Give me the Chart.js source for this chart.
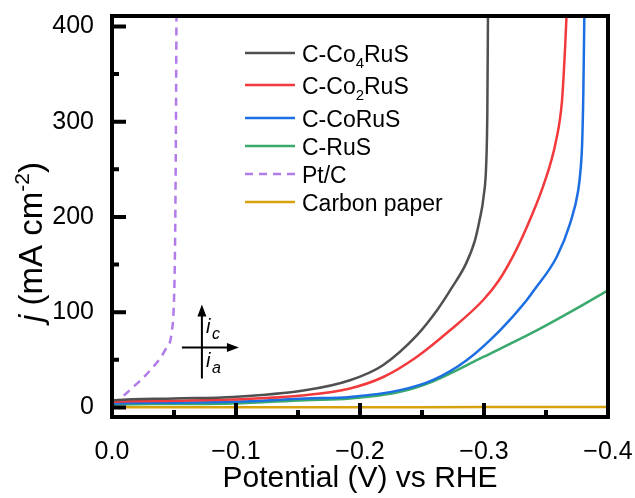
<!DOCTYPE html>
<html>
<head>
<meta charset="utf-8">
<script src="https://cdn.jsdelivr.net/npm/chart.js@4.4.1/dist/chart.umd.min.js"></script>
<style>
  html, body { margin: 0; padding: 0; background: #fff; }
  #wrap { width: 635px; height: 498px; }
</style>
</head>
<body>
<div id="wrap"><canvas id="lsvChart"></canvas></div>
<script>
// LSV curves (potential in V vs RHE, j in mA cm-2)
const co4rusV = [0, -0.0024, -0.05, -0.0976, -0.1556, -0.1919, -0.2185, -0.246, -0.2621, -0.2742, -0.2855, -0.2927, -0.2964, -0.2996, -0.3019, -0.3027, -0.3032];
const co4rusJ = [7.4, 7.7, 9.5, 11, 18, 28.6, 44.4, 75.9, 102, 126, 151, 175.5, 196.5, 220.7, 259.5, 312, 410];

const co2rusV = [0, -0.0024, -0.05, -0.0976, -0.1556, -0.1919, -0.2188, -0.2457, -0.2726, -0.2992, -0.3121, -0.3258, -0.3379, -0.3484, -0.3581, -0.3629, -0.3653, -0.3665];
const co2rusJ = [5.8, 6, 7, 8.4, 12.9, 20, 32, 53, 81, 112.6, 133.6, 165, 199.7, 235, 280, 322, 375, 410];

const corusV = [0, -0.0024, -0.05, -0.0976, -0.1556, -0.1919, -0.2323, -0.2591, -0.286, -0.3129, -0.3344, -0.3403, -0.3586, -0.3694, -0.376, -0.3779, -0.3791, -0.3801, -0.3809];
const corusJ = [4, 4.2, 5, 5.9, 9.4, 11.1, 18.2, 29, 49.6, 81, 112.6, 123, 158, 193, 228, 250, 275, 329.5, 410];

const rusV = [0, -0.0024, -0.05, -0.0976, -0.1556, -0.1919, -0.2323, -0.2591, -0.2994, -0.3398, -0.3748, -0.4];
const rusJ = [2.9, 3.1, 3.6, 4.2, 7.7, 9.4, 16.4, 27.5, 53, 79, 104, 123];

const ptcV = [0, -0.0024, -0.0169, -0.0323, -0.0427, -0.0484, -0.05, -0.0508, -0.0514, -0.052];
const ptcJ = [4.5, 5.6, 21.3, 41.2, 60, 81, 112.7, 165, 260, 410];

const carbonV = [0, -0.1, -0.2, -0.3, -0.4];
const carbonJ = [0.2, 0.2, 0.3, 0.4, 0.5];

const seriesLabels = ['C-Co\u2084RuS', 'C-Co\u2082RuS', 'C-CoRuS', 'C-RuS', 'Pt/C', 'Carbon paper'];
const seriesColors = ['#505050', '#f23a3c', '#1c6fe3', '#3aa96c', '#b17be9', '#d8a10e'];

const xMajorTicks = [0, -0.1, -0.2, -0.3, -0.4];
const xMinorTicks = [-0.05, -0.15, -0.25, -0.35];
const yMajorTicks = [0, 100, 200, 300, 400];
const yMinorTicks = [50, 150, 250, 350];

const FONT = "'Liberation Sans', Arial, Helvetica, sans-serif";
Chart.defaults.font.family = FONT;
Chart.defaults.color = '#000';

function toPoints(xs, ys) {
    return xs.map((v, i) => ({ x: v, y: ys[i] }));
}

const curves = [
    [co4rusV, co4rusJ], [co2rusV, co2rusJ], [corusV, corusJ],
    [rusV, rusJ], [ptcV, ptcJ], [carbonV, carbonJ]
];

const datasets = curves.map((c, i) => ({
    label: seriesLabels[i],
    data: toPoints(c[0], c[1]),
    borderColor: seriesColors[i],
    borderWidth: 2.5,
    borderDash: seriesLabels[i] === 'Pt/C' ? [8, 6] : [],
    pointRadius: 0,
    cubicInterpolationMode: 'monotone',
    fill: false,
    clip: 0
}));

// subscript digits in labels are drawn as small lowered digits
const SUBS = '\u2080\u2081\u2082\u2083\u2084\u2085\u2086\u2087\u2088\u2089';

function drawRich(ctx, x, y, text, size) {
    let cx = x;
    for (const ch of text) {
        const k = SUBS.indexOf(ch);
        if (k >= 0) {
            ctx.font = `${Math.round(size * 0.65)}px ${FONT}`;
            ctx.fillText(String(k), cx, y + size * 0.3);
            cx += ctx.measureText(String(k)).width;
        } else {
            ctx.font = `${size}px ${FONT}`;
            ctx.fillText(ch, cx, y);
            cx += ctx.measureText(ch).width;
        }
    }
}

const legendRows = [53, 85, 118, 146, 174, 202];

const customLegend = {
    id: 'customLegend',
    afterDraw(chart) {
        const ctx = chart.ctx;
        ctx.save();
        chart.data.datasets.forEach((ds, i) => {
            const y = legendRows[i];
            ctx.strokeStyle = ds.borderColor;
            ctx.lineWidth = 2.5;
            ctx.setLineDash(ds.borderDash);
            ctx.beginPath();
            ctx.moveTo(245, y);
            ctx.lineTo(295, y);
            ctx.stroke();
            ctx.setLineDash([]);
            ctx.fillStyle = '#000';
            ctx.textBaseline = 'alphabetic';
            drawRich(ctx, 302, y + 8.5, ds.label, 23);
        });
        ctx.restore();
    }
};

const frameAndTicks = {
    id: 'frameAndTicks',
    afterDatasetsDraw(chart) {
        const { ctx, chartArea: a, scales: { x, y } } = chart;
        ctx.save();
        ctx.strokeStyle = '#000';
        ctx.lineWidth = 4;
        ctx.beginPath();
        xMajorTicks.forEach(v => { const p = x.getPixelForValue(v); ctx.moveTo(p, a.bottom); ctx.lineTo(p, a.bottom - 14); });
        xMinorTicks.forEach(v => { const p = x.getPixelForValue(v); ctx.moveTo(p, a.bottom); ctx.lineTo(p, a.bottom - 7); });
        yMajorTicks.forEach(v => { const p = y.getPixelForValue(v); ctx.moveTo(a.left, p); ctx.lineTo(a.left + 14, p); });
        yMinorTicks.forEach(v => { const p = y.getPixelForValue(v); ctx.moveTo(a.left, p); ctx.lineTo(a.left + 7, p); });
        ctx.stroke();
        ctx.strokeRect(a.left, a.top, a.right - a.left, a.bottom - a.top);
        ctx.restore();
    }
};

// current direction sign: i_c up, i_a down (placed in data units)
const crossCenter = { x: -0.0725, y: 63 };

const currentArrows = {
    id: 'currentArrows',
    afterDraw(chart) {
        const { ctx, scales: { x, y } } = chart;
        const cx = x.getPixelForValue(crossCenter.x);
        const cy = y.getPixelForValue(crossCenter.y);
        ctx.save();
        ctx.strokeStyle = '#000';
        ctx.fillStyle = '#000';
        ctx.lineWidth = 2;
        ctx.beginPath();
        ctx.moveTo(cx, cy + 31); ctx.lineTo(cx, cy - 33);
        ctx.moveTo(cx - 20, cy); ctx.lineTo(cx + 27, cy);
        ctx.stroke();
        ctx.beginPath();
        ctx.moveTo(cx, cy - 43); ctx.lineTo(cx - 4.5, cy - 31); ctx.lineTo(cx + 4.5, cy - 31); ctx.closePath();
        ctx.moveTo(cx + 37, cy); ctx.lineTo(cx + 25, cy - 4.5); ctx.lineTo(cx + 25, cy + 4.5); ctx.closePath();
        ctx.fill();
        ctx.textBaseline = 'alphabetic';
        ctx.font = `italic 20px ${FONT}`;
        ctx.fillText('i', cx + 4, cy - 14);
        ctx.fillText('i', cx + 4, cy + 20);
        ctx.font = `italic 16px ${FONT}`;
        ctx.fillText('c', cx + 10, cy - 8);
        ctx.fillText('a', cx + 10, cy + 26);
        ctx.restore();
    }
};

const yTitle = {
    id: 'yTitle',
    afterDraw(chart) {
        const ctx = chart.ctx;
        const parts = [
            { t: 'j', f: `italic 33px ${FONT}`, dy: 0 },
            { t: ' (mA cm', f: `33px ${FONT}`, dy: 0 },
            { t: '-2', f: `21px ${FONT}`, dy: -13 },
            { t: ')', f: `33px ${FONT}`, dy: 0 }
        ];
        ctx.save();
        ctx.translate(42, 242);
        ctx.rotate(-Math.PI / 2);
        ctx.fillStyle = '#000';
        ctx.textBaseline = 'alphabetic';
        let total = 0;
        parts.forEach(p => { ctx.font = p.f; p.w = ctx.measureText(p.t).width; total += p.w; });
        let px = -total / 2;
        parts.forEach(p => { ctx.font = p.f; ctx.fillText(p.t, px, p.dy); px += p.w; });
        ctx.restore();
    }
};

new Chart(document.getElementById('lsvChart'), {
    type: 'line',
    data: { datasets: datasets },
    options: {
        responsive: true,
        maintainAspectRatio: false,
        animation: false,
        devicePixelRatio: 1,
        layout: { padding: { left: 0, right: 27, top: 16, bottom: 0 } },
        plugins: { legend: { display: false }, tooltip: { enabled: false } },
        scales: {
            x: {
                type: 'linear',
                reverse: true,
                min: -0.4,
                max: 0,
                afterBuildTicks: s => { s.ticks = xMajorTicks.map(v => ({ value: v })); },
                afterFit: s => { s.height = 81; s.paddingLeft = 0; s.paddingRight = 0; },
                grid: { display: false, drawTicks: false },
                border: { display: false },
                ticks: {
                    font: { size: 25 },
                    padding: 20,
                    maxRotation: 0,
                    autoSkip: false,
                    callback: v => v === 0 ? '0.0' : '\u2212' + Math.abs(v).toFixed(1)
                },
                title: {
                    display: true,
                    text: 'Potential (V) vs RHE',
                    font: { size: 30 },
                    padding: { top: 0, bottom: 1 }
                }
            },
            y: {
                type: 'linear',
                min: -10,
                max: 411,
                afterBuildTicks: s => { s.ticks = yMajorTicks.map(v => ({ value: v })); },
                afterFit: s => { s.width = 112; s.paddingTop = 0; s.paddingBottom = 0; },
                grid: { display: false, drawTicks: false },
                border: { display: false },
                ticks: { font: { size: 25 }, padding: 18, autoSkip: false }
            }
        }
    },
    plugins: [frameAndTicks, customLegend, currentArrows, yTitle]
});
</script>
</body>
</html>
